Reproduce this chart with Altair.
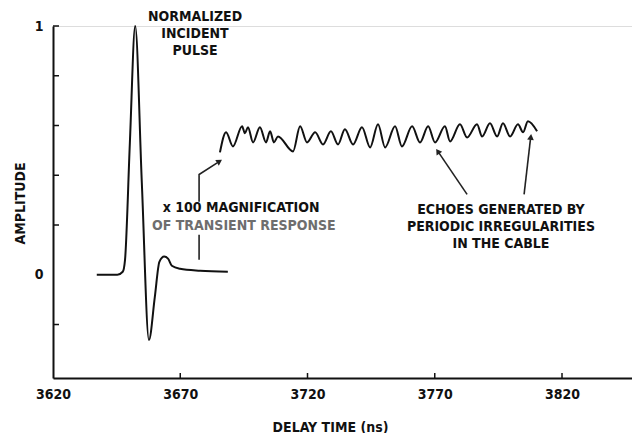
import altair as alt
import pandas as pd

FONT = "DejaVu Sans Condensed, DejaVu Sans, sans-serif"

# Incident pulse (normalized)
pulse_t = [3637.2, 3645.3, 3647.4, 3648.3, 3650.2, 3652.3, 3654.9, 3657.7, 3660.0, 3661.8,
           3663.7, 3665.2, 3666.7, 3669.9, 3677.8, 3688.7]
pulse_a = [0.0, 0.0, 0.012, 0.06, 0.53, 1.0, 0.37, -0.262, -0.09, 0.052,
           0.073, 0.065, 0.036, 0.024, 0.016, 0.012]

# x100 magnified transient response (echoes)
wave_t = [3685.6, 3688.0, 3690.7, 3694.3, 3695.4, 3696.6, 3698.6, 3701.3, 3703.7, 3705.3,
          3706.8, 3708.4, 3714.3, 3717.1, 3719.8, 3723.0, 3726.1, 3729.2, 3732.0, 3734.7,
          3737.9, 3741.4, 3744.6, 3747.7, 3750.5, 3754.4, 3757.1, 3761.1, 3764.2, 3767.4,
          3770.1, 3774.0, 3776.0, 3779.9, 3782.7, 3786.6, 3788.6, 3791.7, 3794.5, 3796.8,
          3799.6, 3802.7, 3804.7, 3806.6, 3810.2]
wave_a = [0.492, 0.573, 0.516, 0.597, 0.569, 0.593, 0.532, 0.593, 0.532, 0.577,
          0.532, 0.556, 0.496, 0.597, 0.532, 0.573, 0.524, 0.577, 0.524, 0.585,
          0.524, 0.593, 0.512, 0.605, 0.512, 0.597, 0.516, 0.597, 0.532, 0.597,
          0.532, 0.597, 0.536, 0.605, 0.552, 0.605, 0.556, 0.609, 0.556, 0.609,
          0.556, 0.605, 0.573, 0.617, 0.577]

x_ticks = [3620, 3670, 3720, 3770, 3820]
x_inner_ticks = [3670, 3720, 3770, 3820]
y_ticks = [-0.2, 0.2, 0.4, 0.6, 0.8, 1.0]
y_labels = [0, 1]

# annotation leader lines
lead_id = ["mag_up", "mag_up", "mag_up", "mag_dn", "mag_dn", "echo_a", "echo_a", "echo_b", "echo_b"]
lead_t = [3677.4, 3677.4, 3684.5, 3677.4, 3677.4, 3782.7, 3771.7, 3805.1, 3807.6]
lead_a = [0.294, 0.403, 0.450, 0.161, 0.060, 0.323, 0.489, 0.323, 0.545]
lead_o = [0, 1, 2, 0, 1, 0, 1, 0, 1]

head_t = [3685.1, 3771.4, 3807.7]
head_a = [0.454, 0.493, 0.550]
head_ang = [58, 326, 7]

txt = ["NORMALIZED", "INCIDENT", "PULSE",
       "x 100 MAGNIFICATION", "OF TRANSIENT RESPONSE",
       "ECHOES GENERATED BY", "PERIODIC IRREGULARITIES", "IN THE CABLE"]
txt_t = [3675.8, 3675.8, 3675.8, 3693.9, 3695.0, 3796.0, 3796.0, 3796.0]
txt_a = [1.036, 0.968, 0.899, 0.270, 0.198, 0.262, 0.194, 0.125]
txt_c = ["#111111", "#111111", "#111111", "#111111", "#6e6e6e", "#111111", "#111111", "#111111"]

W, H = 579, 352
FS = 14
xs = alt.Scale(domain=[3620, 3847.5], nice=False, zero=False)
ys = alt.Scale(domain=[-0.415, 1.0], nice=False, zero=False)

pulse_df = pd.DataFrame({"t": pulse_t, "a": pulse_a})
wave_df = pd.DataFrame({"t": wave_t, "a": wave_a})
lead_df = pd.DataFrame({"id": lead_id, "t": lead_t, "a": lead_a, "o": lead_o})
head_df = pd.DataFrame({"t": head_t, "a": head_a, "ang": head_ang})
txt_df = pd.DataFrame({"txt": txt, "t": txt_t, "a": txt_a, "c": txt_c})
xt_df = pd.DataFrame({"t": x_inner_ticks})
yt_df = pd.DataFrame({"a": y_ticks})

pulse = alt.Chart(pulse_df).mark_line(color="#111111", strokeWidth=2, interpolate="monotone").encode(
    x=alt.X("t:Q", scale=xs, axis=alt.Axis(
        values=x_ticks, ticks=False, grid=False, domainColor="#111111", domainWidth=2,
        labelFont=FONT, labelFontSize=FS, labelFontWeight="bold", labelColor="#111111",
        labelPadding=9, labelFlush=False, format="d",
        title="DELAY TIME (ns)", titleFont=FONT, titleFontSize=FS, titleFontWeight="bold",
        titleColor="#111111", titleX=277, titleY=49, titleBaseline="middle", titleAlign="center")),
    y=alt.Y("a:Q", scale=ys, axis=alt.Axis(
        values=y_labels, ticks=False, grid=False, domainColor="#111111", domainWidth=2,
        labelFont=FONT, labelFontSize=FS, labelFontWeight="bold", labelColor="#111111",
        labelPadding=10, labelFlush=False, format="d",
        title="AMPLITUDE", titleFont=FONT, titleFontSize=FS, titleFontWeight="bold",
        titleColor="#111111", titleX=-33, titleY=177, titleAngle=-90,
        titleBaseline="middle", titleAlign="center")),
)

wave = alt.Chart(wave_df).mark_line(color="#111111", strokeWidth=2, interpolate="monotone").encode(
    x=alt.X("t:Q", scale=xs), y=alt.Y("a:Q", scale=ys))

leads = alt.Chart(lead_df).mark_line(color="#222222", strokeWidth=1.6).encode(
    x=alt.X("t:Q", scale=xs), y=alt.Y("a:Q", scale=ys), detail="id:N", order="o:Q")

heads = alt.Chart(head_df).mark_point(shape="triangle", filled=True, color="#222222", size=45, opacity=1).encode(
    x=alt.X("t:Q", scale=xs), y=alt.Y("a:Q", scale=ys), angle=alt.Angle("ang:Q", scale=None))

texts = alt.Chart(txt_df).mark_text(font=FONT, fontSize=FS, fontWeight="bold", align="center",
                                    baseline="middle").encode(
    x=alt.X("t:Q", scale=xs), y=alt.Y("a:Q", scale=ys), text="txt:N",
    color=alt.Color("c:N", scale=None))

xtk = alt.Chart(xt_df).mark_rule(color="#111111", strokeWidth=1.5).encode(
    x=alt.X("t:Q", scale=xs), y=alt.value(H), y2=alt.value(H - 5))

ytk = alt.Chart(yt_df).mark_rule(color="#111111", strokeWidth=1.5).encode(
    y=alt.Y("a:Q", scale=ys), x=alt.value(0), x2=alt.value(6))

chart = alt.layer(pulse, wave, leads, heads, texts, xtk, ytk).properties(
    width=W, height=H,
    autosize=alt.AutoSizeParams(type="none"),
    padding={"left": 45, "top": 18, "right": 0, "bottom": 55},
).configure_view(stroke=None).configure(background="white")

chart.save("out.html", embed_options={"renderer": "svg", "actions": False})
